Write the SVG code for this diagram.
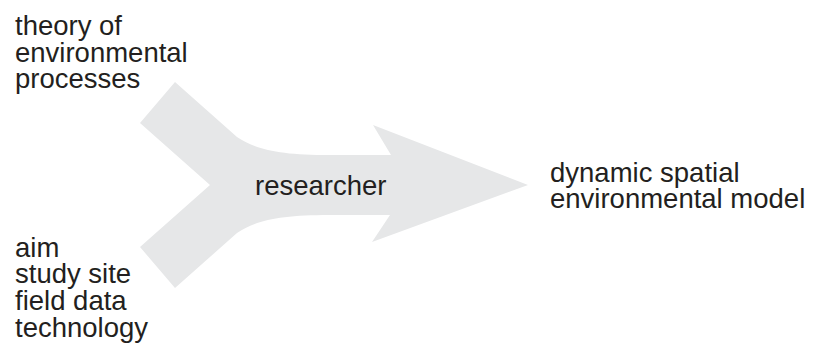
<svg xmlns="http://www.w3.org/2000/svg" width="814" height="345" viewBox="0 0 814 345">
  <style>
    .lbl { font-family: "Liberation Sans", Arial, sans-serif; font-size: 27.5px; fill: #231f20; }
    .flow { fill: #e6e7e8; }
  </style>
  <rect width="814" height="345" fill="#ffffff"/>
  <!-- merging arrow: two inputs joined into one output -->
  <g id="connectors">
    <path class="flow" d="M175,82 L237,137 C257,150 280,155 330,155 L391,155 L373,125 L528,185 L372,242 L390,215 L330,215 C280,215 257,220 237,233 L175,288 L140,247 L210,185 L140,123 Z"/>
  </g>
  <g id="theory">
    <text class="lbl" x="15" y="35">theory of</text>
    <text class="lbl" x="15" y="61.5">environmental</text>
    <text class="lbl" x="15" y="88">processes</text>
  </g>
  <g id="inputs">
    <text class="lbl" x="15" y="256.5">aim</text>
    <text class="lbl" x="15" y="283">study site</text>
    <text class="lbl" x="15" y="309.8">field data</text>
    <text class="lbl" x="15" y="336.5">technology</text>
  </g>
  <g id="researcher">
    <text class="lbl" x="255" y="195">researcher</text>
  </g>
  <g id="model">
    <text class="lbl" x="550" y="181.7">dynamic spatial</text>
    <text class="lbl" x="550" y="208.3">environmental model</text>
  </g>
</svg>
